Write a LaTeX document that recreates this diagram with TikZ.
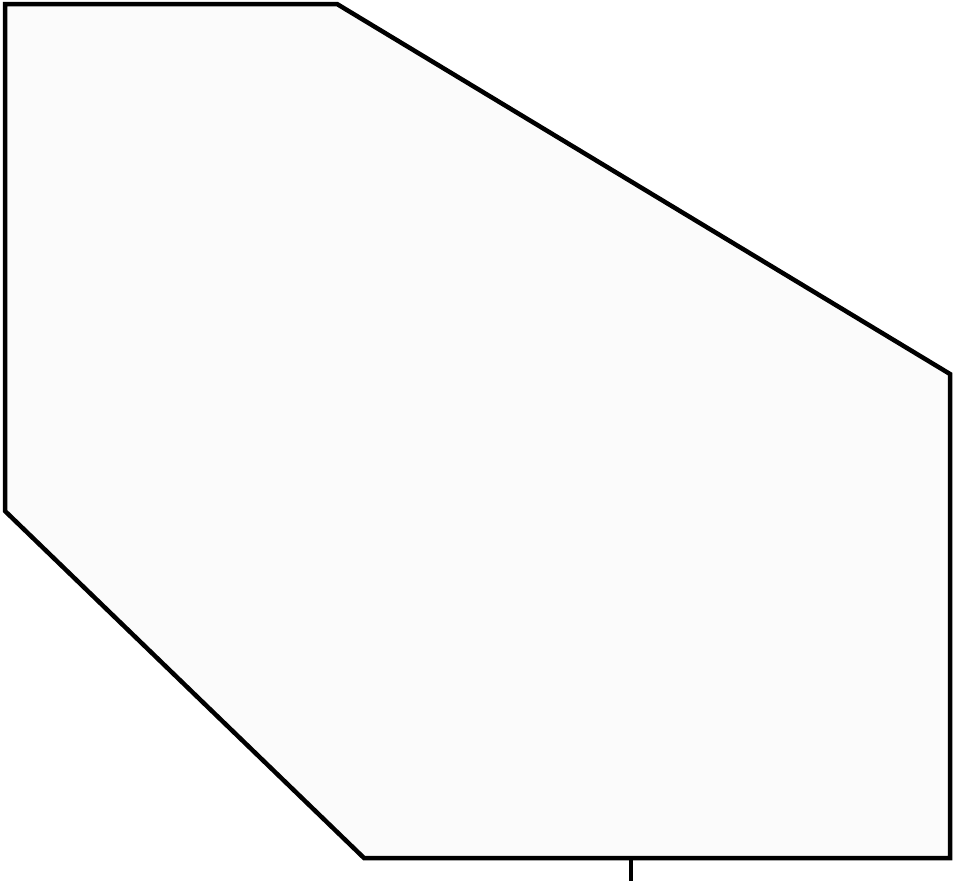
\documentclass[tikz,border=0pt]{standalone}
\definecolor{shapefill}{HTML}{FBFBFB}
\tikzset{outline/.style={draw=black, line width=4.5pt, fill=shapefill, line join=miter},
  tickline/.style={draw=black, line width=4.5pt}}
\begin{document}
\begin{tikzpicture}[x=1pt,y=-1pt]
\useasboundingbox (0,0) rectangle (953,881);
\coordinate (a) at (5,4);
\coordinate (b) at (337,4);
\coordinate (c) at (950,374);
\coordinate (d) at (950,858);
\coordinate (e) at (364,858);
\coordinate (f) at (5,511);
\coordinate (t1) at (631,858);
\coordinate (t2) at (631,881);
\path[outline] (a) -- (b) -- (c) -- (d) -- (e) -- (f) -- cycle;
\path[tickline] (t1) -- (t2);
\end{tikzpicture}
\end{document}
